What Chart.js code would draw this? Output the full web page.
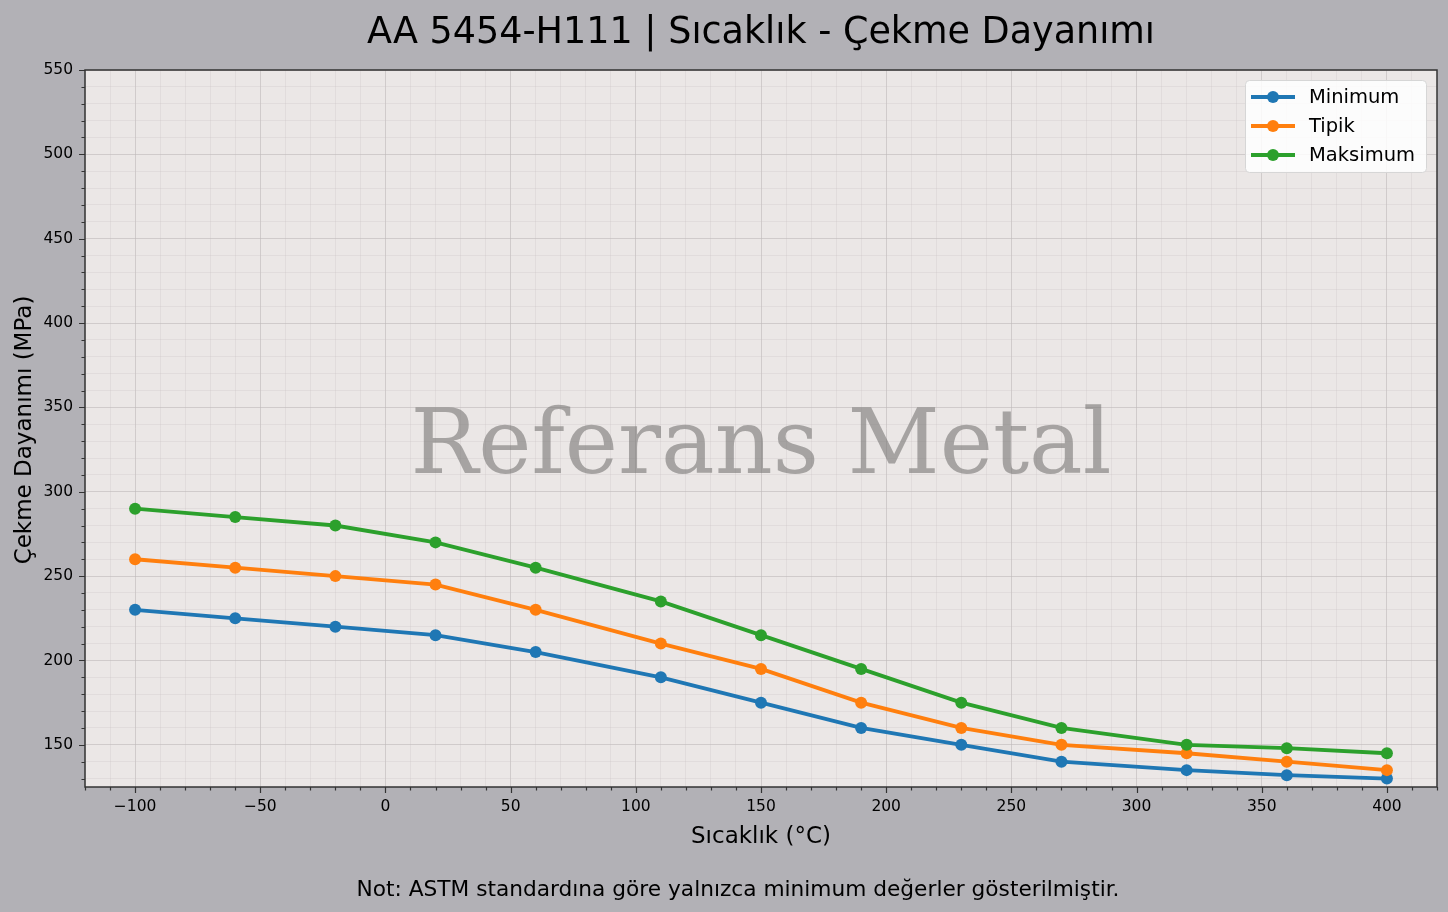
<!DOCTYPE html>
<html>
<head>
<meta charset="utf-8">
<script src="https://cdn.jsdelivr.net/npm/chart.js@4.4.1/dist/chart.umd.min.js"></script>
<style>
  html, body { margin: 0; padding: 0; background: #b2b1b6; }
  #wrap { width: 1448px; height: 912px; position: relative; }
</style>
</head>
<body>
<div id="wrap"><canvas id="chart" width="1448" height="912"></canvas></div>
<script>
  /* ── data ── */
  var TEMPS = [-100, -60, -20, 20, 60, 110, 150, 190, 230, 270, 320, 360, 400];
  var MINIMUM = [230, 225, 220, 215, 205, 190, 175, 160, 150, 140, 135, 132, 130];
  var TIPIK = [260, 255, 250, 245, 230, 210, 195, 175, 160, 150, 145, 140, 135];
  var MAKSIMUM = [290, 285, 280, 270, 255, 235, 215, 195, 175, 160, 150, 148, 145];
  var SERIES_LABELS = ["Minimum", "Tipik", "Maksimum"];
  var X_RANGE = [-120, 420];
  var Y_RANGE = [125, 550];

  var TITLE = "AA 5454-H111 | Sıcaklık - Çekme Dayanımı";
  var X_TITLE = "Sıcaklık (°C)";
  var Y_TITLE = "Çekme Dayanımı (MPa)";
  var NOTE = "Not: ASTM standardına göre yalnızca minimum değerler gösterilmiştir.";
  var WATERMARK = "Referans Metal";

  /* ── styling ── */
  var COLORS = ["#1f77b4", "#ff7f0e", "#2ca02c"];
  var FONT = "'DejaVu Sans', sans-serif";
  var MAJOR_GRID = "rgba(190,185,185,0.6)";
  var MINOR_GRID = "rgba(200,195,195,0.28)";
  var SPINE = "#333333";

  function pts(ys) {
    return TEMPS.map(function (x, i) { return { x: x, y: ys[i] }; });
  }

  function gridColor(ctx) {
    var v = ctx.tick ? ctx.tick.value : 0;
    return Math.abs(v % 50) < 1e-6 ? MAJOR_GRID : MINOR_GRID;
  }

  function tickLabel(v) {
    if (Math.abs(v % 50) > 1e-6) return "";
    return v < 0 ? "\u2212" + Math.abs(v) : String(v);
  }

  /* ── plot background + watermark ── */
  var backdrop = {
    id: "backdrop",
    beforeDraw: function (chart) {
      var c = chart.ctx, a = chart.chartArea;
      c.save();
      c.fillStyle = "#ebe7e6";
      c.fillRect(a.left, a.top, a.right - a.left, a.bottom - a.top);
      c.restore();
    },
    beforeDatasetsDraw: function (chart) {
      var c = chart.ctx, a = chart.chartArea;
      c.save();
      c.font = "90px 'DejaVu Serif', serif";
      c.fillStyle = "rgba(120,118,116,0.6)";
      c.textAlign = "center";
      c.textBaseline = "alphabetic";
      c.fillText(WATERMARK, (a.left + a.right) / 2, 473);
      c.restore();
    }
  };

  /* ── spines, tick marks, texts, legend ── */
  var decor = {
    id: "decor",
    afterDraw: function (chart) {
      var c = chart.ctx, a = chart.chartArea;
      var xs = chart.scales.x, ys = chart.scales.y;
      c.save();

      // spines
      c.strokeStyle = SPINE;
      c.lineWidth = 1.5;
      c.strokeRect(a.left, a.top, a.right - a.left, a.bottom - a.top);

      // tick marks
      c.lineWidth = 1.2;
      c.beginPath();
      for (var v = -120; v <= 420; v += 10) {
        var px = Math.round(xs.getPixelForValue(v)) + 0.5;
        var len = v % 50 === 0 ? 6 : 3.5;
        c.moveTo(px, a.bottom);
        c.lineTo(px, a.bottom + len);
      }
      for (var w = 130; w <= 550; w += 10) {
        var py = Math.round(ys.getPixelForValue(w)) + 0.5;
        var l2 = w % 50 === 0 ? 6 : 3.5;
        c.moveTo(a.left, py);
        c.lineTo(a.left - l2, py);
      }
      c.stroke();

      // texts
      c.fillStyle = "#000000";
      c.textAlign = "center";
      c.textBaseline = "alphabetic";
      c.font = "36.5px " + FONT;
      c.fillText(TITLE, (a.left + a.right) / 2, 43);
      c.font = "23px " + FONT;
      c.fillText(X_TITLE, (a.left + a.right) / 2, 843);
      c.font = "21.7px " + FONT;
      c.fillText(NOTE, 738, 896);

      c.save();
      c.translate(31, 430);
      c.rotate(-Math.PI / 2);
      c.font = "23px " + FONT;
      c.fillText(Y_TITLE, 0, 0);
      c.restore();

      // legend
      var lx = 1245, ly = 80, lw = 181, lh = 92;
      c.fillStyle = "rgba(255,255,255,0.85)";
      c.strokeStyle = "#d6d6d6";
      c.lineWidth = 1;
      c.beginPath();
      c.roundRect(lx + 0.5, ly + 0.5, lw, lh, 4);
      c.fill();
      c.stroke();
      c.font = "19.5px " + FONT;
      c.textAlign = "left";
      c.textBaseline = "middle";
      chart.data.datasets.forEach(function (ds, i) {
        var cy = ly + 17 + i * 29;
        c.strokeStyle = ds.borderColor;
        c.lineWidth = 3.8;
        c.beginPath();
        c.moveTo(lx + 6, cy);
        c.lineTo(lx + 50, cy);
        c.stroke();
        c.fillStyle = ds.borderColor;
        c.beginPath();
        c.arc(lx + 28, cy, 6, 0, Math.PI * 2);
        c.fill();
        c.fillStyle = "#000000";
        c.fillText(ds.label, lx + 64, cy + 1);
      });

      c.restore();
    }
  };

  var seriesValues = [MINIMUM, TIPIK, MAKSIMUM];

  new Chart(document.getElementById("chart").getContext("2d"), {
    type: "line",
    data: {
      datasets: seriesValues.map(function (ys, i) {
        return {
          label: SERIES_LABELS[i],
          data: pts(ys),
          borderColor: COLORS[i],
          backgroundColor: COLORS[i],
          borderWidth: 3.8,
          pointRadius: 6,
          pointHoverRadius: 6,
          pointBorderWidth: 0,
          tension: 0,
          order: 3 - i
        };
      })
    },
    options: {
      responsive: false,
      animation: false,
      devicePixelRatio: 1,
      layout: { padding: { top: 70, right: 11, left: 0, bottom: 0 } },
      plugins: {
        legend: { display: false },
        title: { display: false },
        tooltip: { enabled: false }
      },
      scales: {
        x: {
          type: "linear",
          min: X_RANGE[0],
          max: X_RANGE[1],
          afterFit: function (s) { s.height = 125; },
          border: { display: false },
          grid: { color: gridColor, lineWidth: 1, drawTicks: false },
          ticks: {
            stepSize: 10,
            autoSkip: false,
            maxRotation: 0,
            includeBounds: false,
            padding: 11,
            color: "#000000",
            font: { family: FONT, size: 15.5 },
            callback: tickLabel
          }
        },
        y: {
          type: "linear",
          min: Y_RANGE[0],
          max: Y_RANGE[1],
          afterFit: function (s) { s.width = 85; },
          border: { display: false },
          grid: { color: gridColor, lineWidth: 1, drawTicks: false },
          ticks: {
            stepSize: 10,
            autoSkip: false,
            includeBounds: false,
            padding: 12,
            color: "#000000",
            font: { family: FONT, size: 15.5 },
            callback: tickLabel
          }
        }
      }
    },
    plugins: [backdrop, decor]
  });
</script>
</body>
</html>
